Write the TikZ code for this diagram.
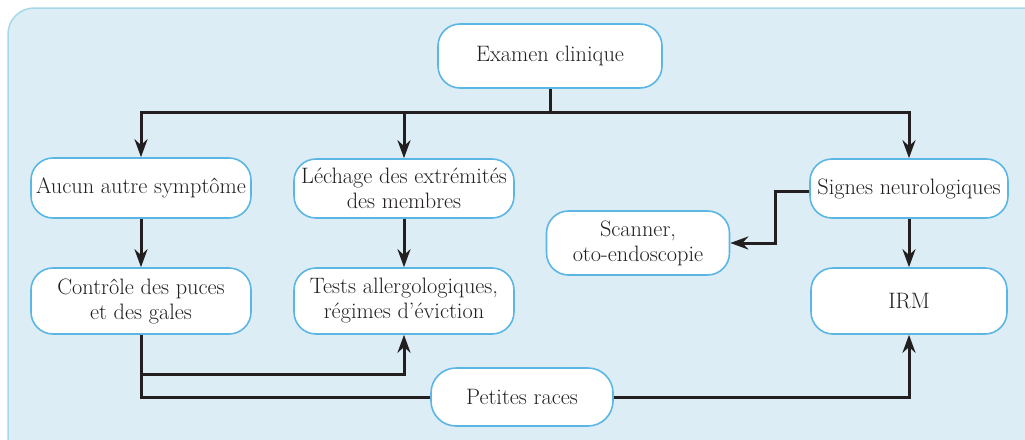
\documentclass[tikz,border=0pt]{standalone}
\usetikzlibrary{arrows.meta}
\definecolor{bgfill}{HTML}{DDEDF5}
\definecolor{bgline}{HTML}{A6D9E8}
\definecolor{boxline}{HTML}{5CB6E4}
\definecolor{ink}{HTML}{231F20}
\tikzset{
  box/.style={draw=boxline, line width=1.6pt, fill=white, rounded corners=22pt,
    align=center, text=ink, font=\fontsize{22.3}{25}\selectfont, inner sep=0pt},
  link/.style={draw=ink, line width=3pt},
  arr/.style={link, -{Stealth[length=18pt,width=13pt]}}
}
\begin{document}
\begin{tikzpicture}[x=1pt,y=-1pt]
\useasboundingbox (0,0) rectangle (1025,439);
\begin{scope}
\clip (0,0) rectangle (1025,439);
\draw[fill=bgfill, draw=bgline, line width=1.5pt, rounded corners=26pt] (8,8) rectangle (1060,470);
\end{scope}
\node[box, minimum width=224pt, minimum height=64pt] (exam) at (550,56) {Examen clinique};
\node[box, minimum width=220pt, minimum height=60pt] (aucun) at (141,188) {Aucun autre symptôme};
\node[box, minimum width=220pt, minimum height=59pt] (lech) at (404,188.5) {Léchage des extrémités\\des membres};
\node[box, minimum width=198pt, minimum height=59pt] (signes) at (909,188.5) {Signes neurologiques};
\node[box, minimum width=183pt, minimum height=64pt] (scan) at (638,243) {Scanner,\\oto-endoscopie};
\node[box, minimum width=220pt, minimum height=66pt] (ctrl) at (141,301) {Contrôle des puces\\et des gales};
\node[box, minimum width=220pt, minimum height=66pt] (tests) at (404,301) {Tests allergologiques,\\régimes d’éviction};
\node[box, minimum width=196pt, minimum height=66pt] (irm) at (909,301) {IRM};
\node[box, minimum width=182pt, minimum height=58pt, rounded corners=25pt] (pet) at (522,397) {Petites races};
\coordinate (hub) at (550,112);
\coordinate (bend) at (775,191);
\coordinate (split) at (141,374);
\draw[link] (exam.south) -- (hub);
\draw[arr] (hub) -| (aucun.north);
\draw[arr] (hub) -| (lech.north);
\draw[arr] (hub) -| (signes.north);
\draw[arr] (aucun.south) -- (ctrl.north);
\draw[arr] (lech.south) -- (tests.north);
\draw[arr] (signes.south) -- (irm.north);
\draw[arr] (signes.west |- bend) -- (bend) |- (scan.east);
\draw[link] (ctrl.south) |- (pet.west);
\draw[arr] (split) -| (tests.south);
\draw[arr] (pet.east) -| (irm.south);
\end{tikzpicture}
\end{document}
